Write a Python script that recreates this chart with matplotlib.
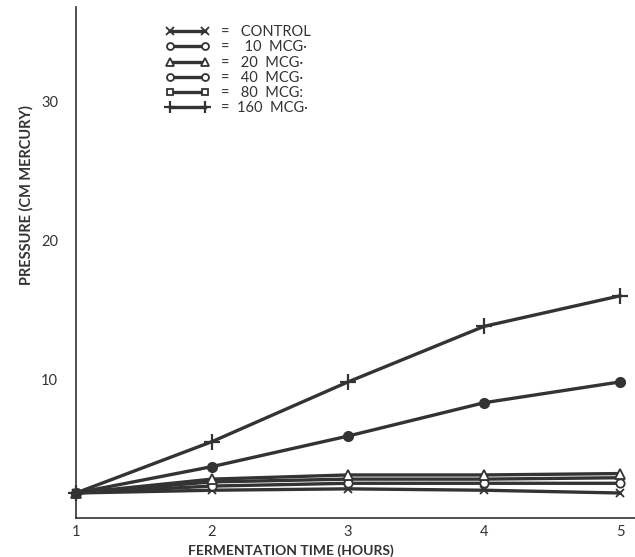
import matplotlib
matplotlib.use("Agg")
import matplotlib.pyplot as plt
from matplotlib.lines import Line2D

# ---- data ----
hours = [1, 2, 3, 4, 5]
control = [1.8, 2.0, 2.1, 2.0, 1.8]
mcg10 = [1.8, 2.3, 2.5, 2.5, 2.5]
mcg20 = [1.8, 2.8, 3.1, 3.1, 3.2]
mcg40 = [1.8, 3.7, 5.9, 8.3, 9.8]
mcg80 = [1.8, 2.6, 2.8, 2.8, 2.9]
mcg160 = [1.8, 5.5, 9.8, 13.8, 16.0]

legend_labels = ["=   CONTROL", "=    10  MCG\u00b7", "=   20  MCG\u00b7",
                 "=   40  MCG\u00b7", "=   80  MCG:", "=  160  MCG\u00b7"]
xticks = [1, 2, 3, 4, 5]
xtick_labels = ["1", "2", "3", "4", "5"]
yticks = [10, 20, 30]
ytick_labels = ["10", "20", "30"]

INK = "#333333"
FONT = ["Lato", "DejaVu Sans"]
plt.rcParams["font.family"] = FONT

fig = plt.figure(figsize=(6.35, 5.57), dpi=100)
ax = fig.add_axes([76 / 635, 39 / 557, 559 / 635, 511 / 557])
ax.set_xlim(1, 5.11)
ax.set_ylim(0, 36.8)

lw = 2.4
common = dict(color=INK, lw=lw, clip_on=False, zorder=3)
ax.plot(hours, control, marker="x", ms=6, mew=1.3, **common)
ax.plot(hours, mcg10, marker="o", ms=6, mfc="white", mec=INK, mew=1.3, **common)
ax.plot(hours, mcg80, marker="None", **common)
ax.plot(hours, mcg20, marker="^", ms=7, mfc="white", mec=INK, mew=1.3, **common)
ax.plot(hours, mcg40, marker="o", ms=7, mfc=INK, mec=INK, **common)
ax.plot(hours, mcg160, marker="+", ms=11, mew=1.6, **common)

for s in ["top", "right"]:
    ax.spines[s].set_visible(False)
for s in ["left", "bottom"]:
    ax.spines[s].set_color(INK)
    ax.spines[s].set_linewidth(1.2)

ax.set_xticks(xticks)
ax.set_xticklabels(xtick_labels)
ax.set_yticks(yticks)
ax.set_yticklabels(ytick_labels)
ax.tick_params(length=0, labelsize=10.5, colors=INK)
ax.tick_params(axis="x", pad=5)
ax.tick_params(axis="y", pad=13)

fig.text(291 / 635, 1 - 551 / 557, "FERMENTATION TIME (HOURS)", ha="center",
         va="center", fontsize=10, fontweight="bold", color=INK)
fig.text(26 / 635, 1 - 195 / 557, "PRESSURE (CM MERCURY)", ha="center",
         va="center", rotation=90, fontsize=10.5, fontweight="bold", color=INK)

handles = [
    Line2D([], [], color=INK, lw=lw, marker="x", ms=6, mew=1.3),
    Line2D([], [], color=INK, lw=lw, marker="o", ms=5, mfc="white", mew=1.3),
    Line2D([], [], color=INK, lw=lw, marker="^", ms=6, mfc="white", mew=1.3),
    Line2D([], [], color=INK, lw=lw, marker="o", ms=5, mfc="white", mew=1.3),
    Line2D([], [], color=INK, lw=lw, marker="s", ms=5, mfc="white", mew=1.3),
    Line2D([], [], color=INK, lw=lw, marker="+", ms=8, mew=1.6),
]
leg = fig.legend(handles, legend_labels, loc="upper left",
                 bbox_to_anchor=(158 / 635, 1 - 18 / 557), frameon=False,
                 numpoints=2, handlelength=3.0, handletextpad=0.8,
                 labelspacing=0.08, fontsize=10.5, borderpad=0)
for t in leg.get_texts():
    t.set_color(INK)

fig.savefig("out.png", dpi=100, facecolor="white")
